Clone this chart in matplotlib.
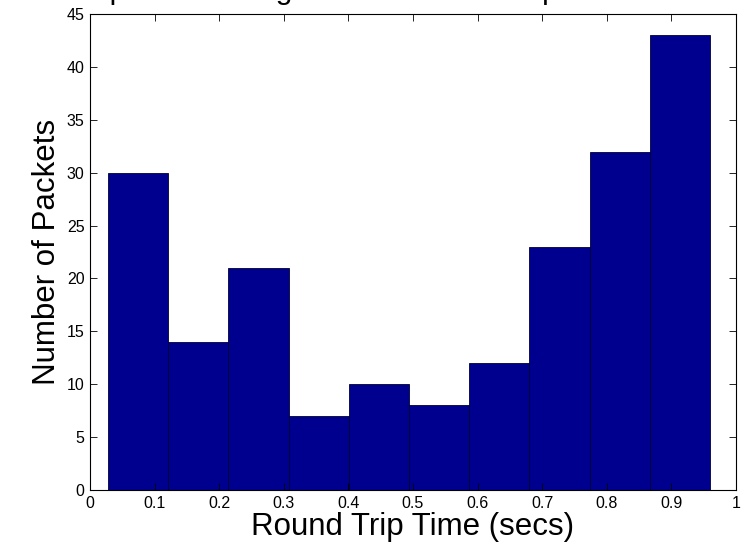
import numpy as np
import matplotlib.pyplot as plt

plt.rcParams['font.family'] = ['Liberation Sans', 'DejaVu Sans']

# histogram bins (centres) and packet counts
bin_centers = [0.0745, 0.1677, 0.2609, 0.3541, 0.4473, 0.5405, 0.6337, 0.7269, 0.8201, 0.9133]
counts = [30, 14, 21, 7, 10, 8, 12, 23, 32, 43]
bin_width = 0.0932

x_ticks = [0, 0.1, 0.2, 0.3, 0.4, 0.5, 0.6, 0.7, 0.8, 0.9, 1]
x_labels = ['0', '0.1', '0.2', '0.3', '0.4', '0.5', '0.6', '0.7', '0.8', '0.9', '1']
y_ticks = [0, 5, 10, 15, 20, 25, 30, 35, 40, 45]

fig = plt.figure(figsize=(7.47, 5.55), dpi=100)
ax = fig.add_axes([90 / 747, 65 / 555, 646 / 747, 476 / 555])

ax.bar(bin_centers, counts, width=bin_width, color='#00008f',
       edgecolor='#000030', linewidth=0.6)

ax.set_xlim(0, 1)
ax.set_ylim(0, 45)
ax.set_xticks(x_ticks)
ax.set_xticklabels(x_labels)
ax.set_yticks(y_ticks)
ax.tick_params(direction='in', top=True, right=True, labelsize=11.5,
               length=5, width=0.6, pad=4)
for s in ax.spines.values():
    s.set_linewidth(0.8)

ax.set_xlabel('Round Trip Time (secs)', fontsize=22.5, labelpad=1)
ax.set_ylabel('Number of Packets', fontsize=22.5, labelpad=3)

# title is cut off at the top of the image, only descenders show
fig.text(-20 / 747, 1.0 + 1 / 555, 'Round Trip Time Histogram of 1000 ICMP packets sent',
         ha='left', va='baseline', fontsize=21.5)

fig.savefig('out.png', dpi=100)
